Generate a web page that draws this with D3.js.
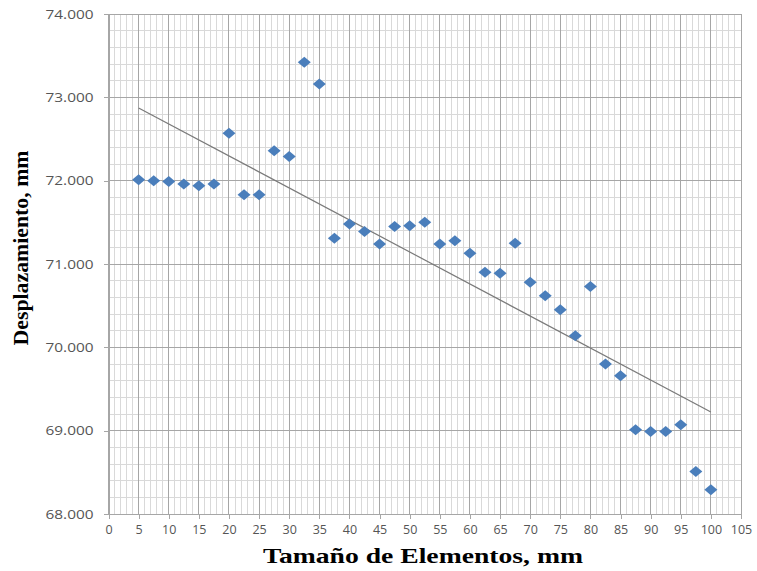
<!DOCTYPE html>
<html>
<head>
<meta charset="utf-8">
<script src="https://cdn.jsdelivr.net/npm/d3@7"></script>
<style>
  body { margin: 0; background: #fff; }
  #chart text.tick-label { font-family: "Open Sans", "Noto Sans", sans-serif; font-size: 12.5px; fill: #555; }
  #chart text.axis-title { font-family: "Liberation Serif", "DejaVu Serif", serif; font-weight: bold; fill: #000; }
</style>
</head>
<body>
<div id="chart"></div>
<script>
// tamaño de elementos (mm) y desplazamiento (mm)
const TAMANO = [5, 7.5, 10, 12.5, 15, 17.5, 20, 22.5, 25, 27.5, 30, 32.5, 35, 37.5, 40, 42.5, 45, 47.5, 50, 52.5,
  55, 57.5, 60, 62.5, 65, 67.5, 70, 72.5, 75, 77.5, 80, 82.5, 85, 87.5, 90, 92.5, 95, 97.5, 100];
const DESPLAZAMIENTO = [72.01, 72.00, 71.99, 71.96, 71.94, 71.96, 72.57, 71.83, 71.83, 72.36, 72.29, 73.42, 73.16,
  71.31, 71.48, 71.39, 71.24, 71.45, 71.46, 71.50, 71.24, 71.28, 71.13, 70.90, 70.89, 71.25, 70.78, 70.62,
  70.45, 70.14, 70.73, 69.80, 69.66, 69.01, 68.99, 68.99, 69.07, 68.51, 68.29];
const X_TICKS = d3.range(0, 106, 5);
const Y_TICKS = [68, 69, 70, 71, 72, 73, 74];

const WIDTH = 757;
const HEIGHT = 571;
const MARGIN = { left: 108.5, right: 16, top: 14, bottom: 57 };

const SVG = d3.select("#chart").append("svg")
  .attr("width", WIDTH)
  .attr("height", HEIGHT);

const X = d3.scaleLinear().domain([0, 105]).range([MARGIN.left, WIDTH - MARGIN.right]);
const Y = d3.scaleLinear().domain([68, 74]).range([HEIGHT - MARGIN.bottom, MARGIN.top]);

// GRID
const GRID = SVG.append("g").attr("shape-rendering", "crispEdges");
GRID.selectAll("line.minor-x")
  .data(d3.range(0, 106, 1).filter(d => d % 5 !== 0))
  .enter().append("line")
  .attr("x1", d => X(d)).attr("x2", d => X(d))
  .attr("y1", Y(68)).attr("y2", Y(74))
  .attr("stroke", "#d9d9d9");
GRID.selectAll("line.minor-y")
  .data(d3.range(0, 31).map(i => 68 + i * 0.2).filter((d, i) => i % 5 !== 0))
  .enter().append("line")
  .attr("x1", X(0)).attr("x2", X(105))
  .attr("y1", d => Y(d)).attr("y2", d => Y(d))
  .attr("stroke", "#d9d9d9");
GRID.selectAll("line.major-x")
  .data(X_TICKS)
  .enter().append("line")
  .attr("x1", d => X(d)).attr("x2", d => X(d))
  .attr("y1", Y(68)).attr("y2", Y(74))
  .attr("stroke", "#a6a6a6");
GRID.selectAll("line.major-y")
  .data(Y_TICKS)
  .enter().append("line")
  .attr("x1", X(0)).attr("x2", X(105))
  .attr("y1", d => Y(d)).attr("y2", d => Y(d))
  .attr("stroke", "#a6a6a6");

// AXES
const xAxis = SVG.append("g")
  .attr("transform", `translate(0,${Y(68)})`)
  .call(d3.axisBottom(X).tickValues(X_TICKS).tickSize(5).tickPadding(6).tickFormat(d3.format("d")));
const yAxis = SVG.append("g")
  .attr("transform", `translate(${X(0)},0)`)
  .call(d3.axisLeft(Y).tickValues(Y_TICKS).tickSize(5).tickPadding(10).tickFormat(d3.format(".3f")));
[xAxis, yAxis].forEach(a => {
  a.selectAll("path,line").attr("stroke", "#a6a6a6").attr("shape-rendering", "crispEdges");
  a.selectAll("text").attr("class", "tick-label").attr("font-size", null).attr("font-family", null);
});
// labels are a bit wider in the original
yAxis.selectAll("text")
  .attr("textLength", 48)
  .attr("lengthAdjust", "spacingAndGlyphs");

// TRENDLINE (minimos cuadrados)
const mx = d3.mean(TAMANO), my = d3.mean(DESPLAZAMIENTO);
const slope = d3.sum(TAMANO, (x, i) => (x - mx) * (DESPLAZAMIENTO[i] - my)) / d3.sum(TAMANO, x => (x - mx) ** 2);
const intercept = my - slope * mx;
const xr = d3.extent(TAMANO);
SVG.append("line")
  .attr("x1", X(xr[0])).attr("y1", Y(intercept + slope * xr[0]))
  .attr("x2", X(xr[1])).attr("y2", Y(intercept + slope * xr[1]))
  .attr("stroke", "#7a7a7a")
  .attr("stroke-width", 1.2);

// POINTS
SVG.selectAll("path.pt")
  .data(TAMANO.map((x, i) => [x, DESPLAZAMIENTO[i]]))
  .enter().append("path")
  .attr("d", "M0,-5.5L6.5,0L0,5.5L-6.5,0Z")
  .attr("transform", d => `translate(${X(d[0])},${Y(d[1])})`)
  .attr("fill", "#4a7ebb");

// AXIS TITLES
SVG.append("text")
  .attr("class", "axis-title")
  .attr("x", 423).attr("y", 563)
  .attr("text-anchor", "middle")
  .attr("font-size", 21)
  .attr("textLength", 320)
  .attr("lengthAdjust", "spacingAndGlyphs")
  .text("Tamaño de Elementos, mm");
SVG.append("text")
  .attr("class", "axis-title")
  .attr("transform", "translate(28,248) rotate(-90)")
  .attr("text-anchor", "middle")
  .attr("font-size", 21)
  .attr("textLength", 195)
  .attr("lengthAdjust", "spacingAndGlyphs")
  .text("Desplazamiento, mm");
</script>
</body>
</html>
